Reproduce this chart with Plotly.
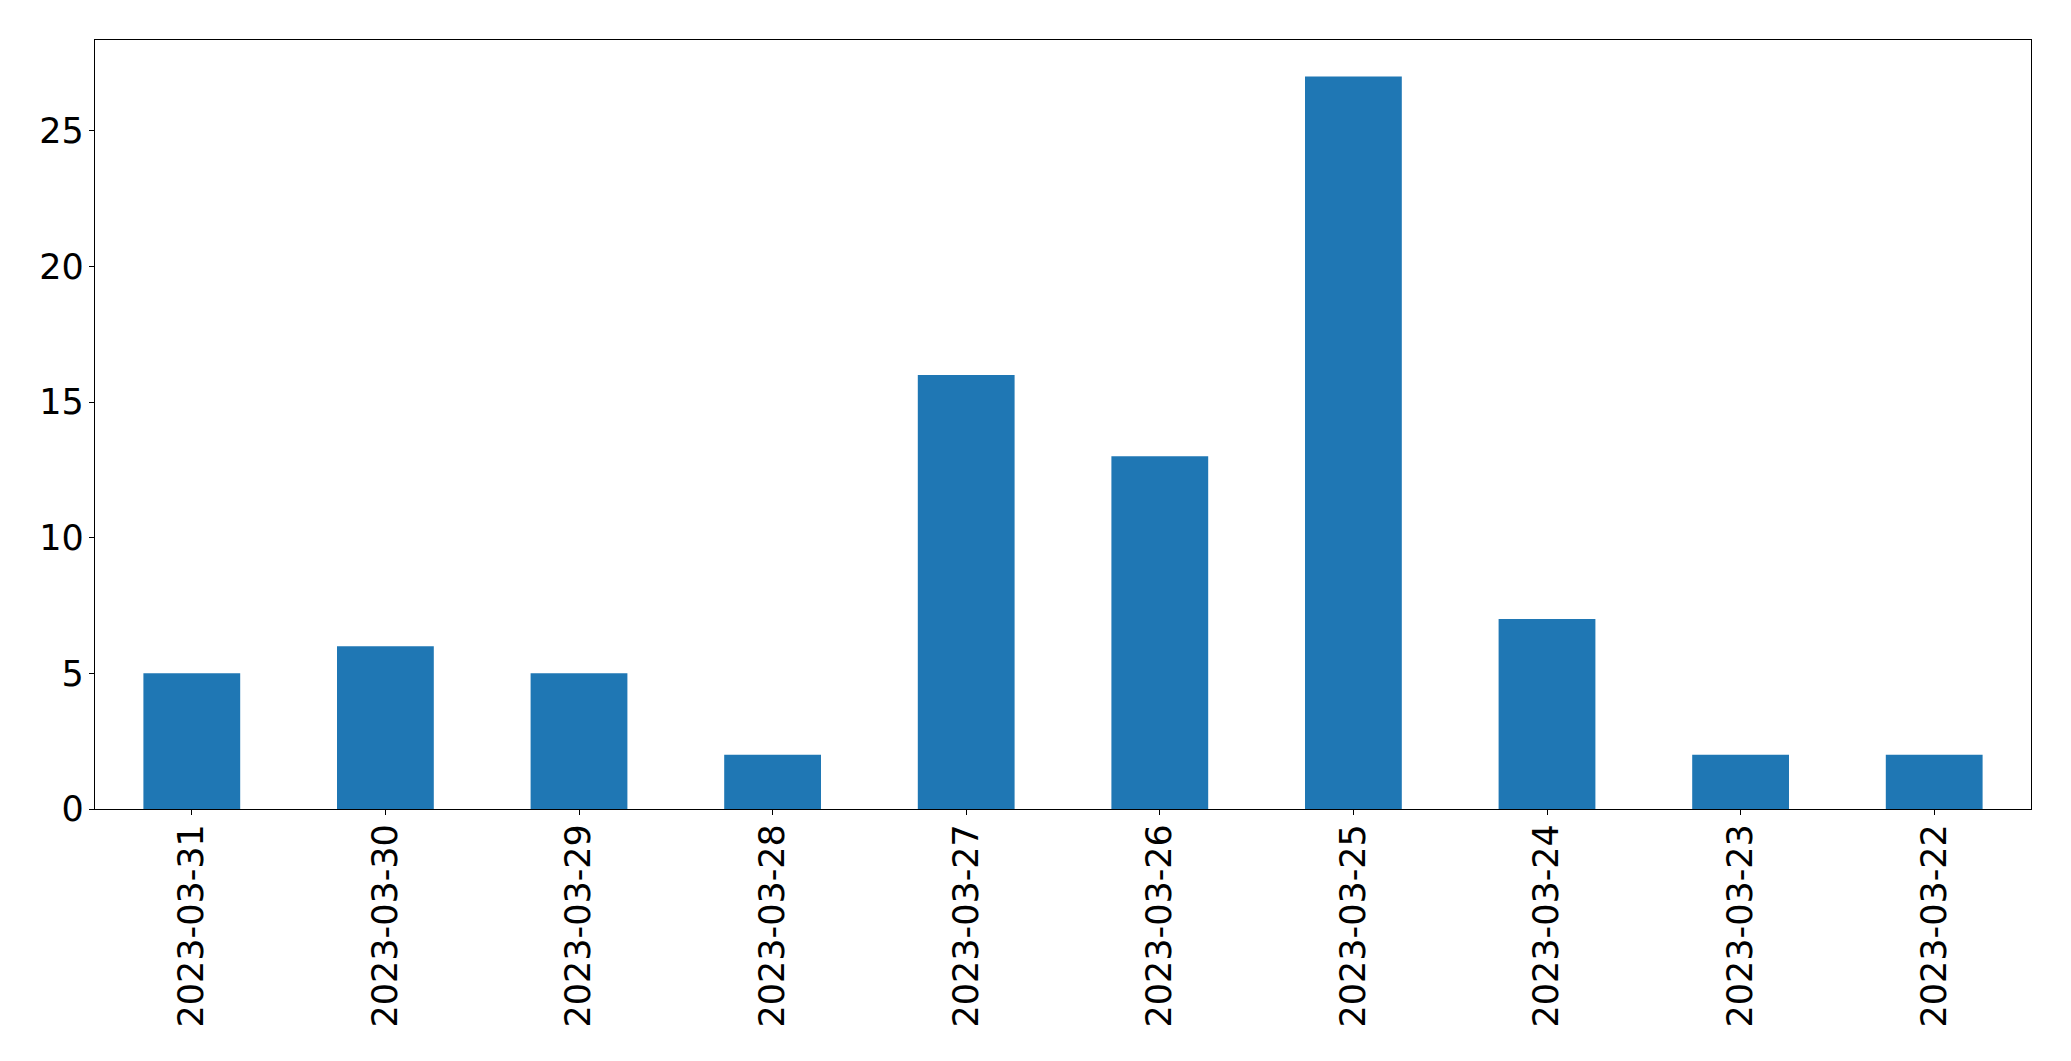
import plotly.graph_objects as go

dates = ["2023-03-31", "2023-03-30", "2023-03-29", "2023-03-28", "2023-03-27",
         "2023-03-26", "2023-03-25", "2023-03-24", "2023-03-23", "2023-03-22"]
counts = [5, 6, 5, 2, 16, 13, 27, 7, 2, 2]
y_ticks = [0, 5, 10, 15, 20, 25]

fig = go.Figure(go.Bar(x=dates, y=counts, marker_color="#1f77b4",
                       marker_line_width=0, width=0.5))

font = dict(family="DejaVu Sans", size=35, color="black")
fig.update_layout(
    width=2071, height=1061,
    margin=dict(l=87, r=48, t=32, b=260, pad=0, autoexpand=False),
    plot_bgcolor="white", paper_bgcolor="white",
    showlegend=False, bargap=0.5,
)
fig.update_xaxes(type="category", range=[-0.5, 9.5], tickangle=-90,
                 showline=True, linecolor="black", linewidth=1.3, mirror=True,
                 ticks="outside", ticklen=5, tickcolor="black", tickwidth=1.3,
                 showgrid=False, tickfont=font, ticklabelstandoff=-5)
fig.update_yaxes(range=[0, 28.35], tickvals=y_ticks,
                 showline=True, linecolor="black", linewidth=1.3, mirror=True,
                 ticks="outside", ticklen=5, tickcolor="black", tickwidth=1.3,
                 showgrid=False, zeroline=False, tickfont=font, ticklabelstandoff=-2)

fig.write_html("out.html")
